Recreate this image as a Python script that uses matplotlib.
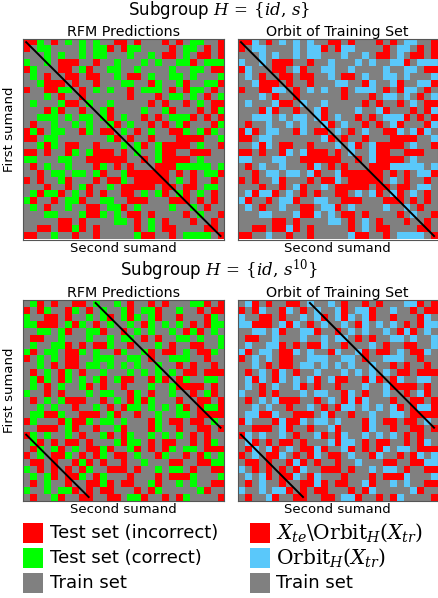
import numpy as np
import matplotlib
matplotlib.use("Agg")
import matplotlib.pyplot as plt
from matplotlib.colors import ListedColormap
from matplotlib.patches import Rectangle

plt.rcParams['font.family'] = ['DejaVu Sans']
plt.rcParams['mathtext.fontset'] = 'dejavuserif'

# '.' = train set, 'R' = test incorrect / outside orbit, 'G' = test correct / in orbit
grid_s = [
    "RRG.R.G.G.G..RR.R...R.R.GG..R",
    "R.GG....G.GGR.RGG....R.GG.R.R",
    "...G.G..G.GG...G..G.RR.G.RR.R",
    "G..G.RRR..R..G...G.G..GGR.GGG",
    "RG...RR.GR..GG..G....G..GG.RR",
    ".G.R..RR.RR..G.RR.G..GG.G...G",
    "..GRRR.R..R...GG..RG..GR..GGR",
    "R..RRGG.R.G.G..R.GGG.R.RGG.R.",
    "...G.R..R......R...R.GG.G.R.G",
    ".G...GRR.G..G.....R.R..R.G.RR",
    "...RGR..R..GR....G..GR...R.RG",
    "..GGG.G.GG.GR.G..R.R.GGGR.R.R",
    ".R..G..G.G..GR.G..R.R.GR...RG",
    "RGR.GG..RG.RR.G.R.G..RRG.GRG.",
    "RR.GG.......GR.R..R...RRRR..G",
    "..GRG.RR..R...G.GR.GRRRR.G..R",
    "RR.R..RG.GRRR.R.G..GRR..RRR..",
    "GG...GG..RRRRRR..R.GRRRR.G...",
    ".R.G..G...RG.R.R...RRRGGGGG.G",
    "..R.GG.GG.GR..GRRRRRR.R.R.GGR",
    "R.R..GR...R.RRG.RRRRR.G.R..R.",
    "...R..R.GR..G.RRRRR.RR.RR.GG.",
    ".GRGGR.G.R.R..RR.G.GR.GR.G.R.",
    "GR..R.GGR..GG..RRR...RRR.R.R.",
    ".G.R..G..RR.GGR.G....G..G.R..",
    "...GG...GRRG.G.RR.R....R.G..R",
    ".....RR.R....GG.R.G.R...R..R.",
    "..RR.RRGR.R.....R.G.RR....RR.",
    "RR..G..R..R.....GRR..R.GGGG.R",
]

grid_s10 = [
    ".GR.R..RR.G..G.R..R.R...GGR.R",
    "R.RG..RG.R.G..GR.GGR..G..R.RR",
    "G..RR.R..G.GR.GRG.GR..R...RG.",
    "GGRRR.GRG.R.G..G.RG.G.G.R.RGG",
    "..GG.GR..GGR..R.G.G..G.RGR.G.",
    ".RR..G...G..G.GG.R.R..GG.G..G",
    ".G..GGR.R.RRG..R...G.R..RR..G",
    "GR.GG.RRG.G..RG..GR.RR.G.RRG.",
    "R.G.G.RR..GGG..GG.R..GGG..R..",
    "..G.R.RR.GG.G.G.G..G..R.R..R.",
    ".R.G.RG.R..G...G.G.G.G.RR.RRR",
    ".GRG.RG.G.GR.GRR..RGR.RG..GG.",
    ".G.R.G..GR.R..R...G..GRRRR.R.",
    "G..R.R...G.GG..RG.R..G..R.GR.",
    ".R.G.GRRR..R.G.RGRG...R..RR.R",
    "..G.G..R..G.R.RGG.G.G.GR.RGGR",
    ".GGRRG..RRR.GR..R..G..GG.RRRR",
    "RG...RGRRG.GG.G...RG.RR.RR.G.",
    "..RRR.GR..R..GR...RG..R..RR.R",
    "RG.G..G.R..GR.RG..G.G.G.R.R..",
    ".GR.R.RR.R...GRGG.R.RR..R.RG.",
    ".RG.GR.G.RRGR..GR.R.RG.GG.RRR",
    "R.G.RRG.R.RG.RR.G..RG..R.RG.G",
    ".RR.R..RGR.R..R..G...RR..RRGG",
    "G.R.R.R.RG..RRR.R..G.GG.R..RR",
    ".G.GR.RRG.RG...R...R.RRRG...G",
    ".R.G..R..RRGR.RR..GR..G.G..RR",
    "G..G.GGR.R.RR...R.RG.....GR..",
    ".R..GR..RR..RR.GGR..R.RG....R",
]

shift = 10
n = len(grid_s)

gray, red, green, blue = '#808080', '#ff0000', '#00ff00', '#5ac8fa'
cmap_rfm = ListedColormap([gray, red, green])
cmap_orb = ListedColormap([gray, red, blue])
code = {'.': 0, 'R': 1, 'G': 2}


def to_array(rows):
    return np.array([[code[c] for c in r] for r in rows])


W, H = 438, 598
fig = plt.figure(figsize=(W / 100, H / 100), dpi=100)


def px_axes(x0, y0, x1, y1):
    return fig.add_axes([x0 / W, 1 - y1 / H, (x1 - x0) / W, (y1 - y0) / H])


def draw_panel(ax, arr, cmap, title, lines):
    ax.imshow(arr, cmap=cmap, vmin=-0.5, vmax=2.5, interpolation='nearest', aspect='auto')
    for (x0, y0, x1, y1) in lines:
        ax.plot([x0, x1], [y0, y1], color='black', lw=1.4)
    ax.set_xlim(-0.5, n - 0.5)
    ax.set_ylim(n - 0.5, -0.5)
    ax.set_xticks([])
    ax.set_yticks([])
    for sp in ax.spines.values():
        sp.set_color('#555555')
        sp.set_linewidth(0.8)
    ax.set_title(title, fontsize=10.3, pad=1.5)
    ax.set_xlabel("Second sumand", fontsize=9.5, labelpad=1.5)


diag = [(0, 0, n - 1, n - 1)]
offdiag = [(shift, 0, n - 1, n - 1 - shift), (0, n - shift, shift - 1, n - 1)]

a_s = to_array(grid_s)
a_s10 = to_array(grid_s10)

ax1 = px_axes(22.7, 38.7, 224, 239.5)
ax2 = px_axes(237.5, 38.7, 437.5, 239.5)
ax3 = px_axes(22.7, 299.5, 224, 500.5)
ax4 = px_axes(237.5, 299.5, 437.5, 500.5)

draw_panel(ax1, a_s, cmap_rfm, "RFM Predictions", diag)
draw_panel(ax2, a_s, cmap_orb, "Orbit of Training Set", diag)
draw_panel(ax3, a_s10, cmap_rfm, "RFM Predictions", offdiag)
draw_panel(ax4, a_s10, cmap_orb, "Orbit of Training Set", offdiag)
for ax in (ax1, ax3):
    ax.set_ylabel("First sumand", fontsize=9.5)
    ax.yaxis.set_label_coords(-0.035, 0.55)

# overlay in pixel coordinates for titles and legends
lax = fig.add_axes([0, 0, 1, 1], zorder=-1)
lax.set_xlim(0, W)
lax.set_ylim(H, 0)
lax.axis('off')

lax.text(219, 15, r"Subgroup $H\,=\,\{id,\,s\}$", fontsize=12, ha='center', va='baseline')
lax.text(219, 276, r"Subgroup $H\,=\,\{id,\,s^{10}\}$", fontsize=12, ha='center', va='baseline')

left_items = [(red, "Test set (incorrect)"), (green, "Test set (correct)"), (gray, "Train set")]
right_items = [(red, r"$X_{te}\backslash\mathrm{Orbit}_H(X_{tr})$", 14.5),
               (blue, r"$\mathrm{Orbit}_H(X_{tr})$", 14.5),
               (gray, "Train set", 13)]

for i, (c, lab) in enumerate(left_items):
    y = 523 + 25 * i
    lax.add_patch(Rectangle((22.7, y), 20.5, 19.5, facecolor=c, edgecolor='none'))
    lax.text(49.5, y + 10, lab, fontsize=13, va='center', ha='left')
for i, (c, lab, fs) in enumerate(right_items):
    y = 523 + 25 * i
    lax.add_patch(Rectangle((249.5, y), 20.5, 19.5, facecolor=c, edgecolor='none'))
    lax.text(276.5, y + 10, lab, fontsize=fs, va='center', ha='left')

fig.savefig("out.png", dpi=100)
